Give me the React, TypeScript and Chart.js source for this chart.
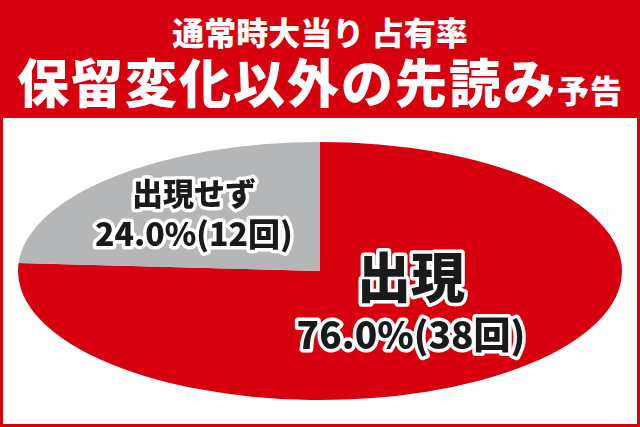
import { useEffect, useRef } from 'react'
import { Chart, registerables } from 'chart.js'

Chart.register(...registerables)

const categories = ['出現', '出現せず']
const shares = [76.0, 24.0]
const counts = [38, 12]
const sliceColors = ['#D7000F', '#B5B6B8']

const titleTop = '通常時大当り 占有率'
const titleMain = '保留変化以外の先読み'
const titleSub = '予告'

const FONT = '"Noto Sans CJK JP", "Noto Sans", sans-serif'
const RED = '#D7000F'

// 楕円にするための横方向の半径
const ellipseRx = 302
// ラベル位置（半径に対する割合と縦のずらし）、フォントサイズ、行間
const labelRadius = [0.44, 0.61]
const labelDy = [-6, 0]
const nameSize = [54, 31]
const valueSize = [37, 32]
const lineGap = [58, 40]

export default function App() {
  const chartRef = useRef<HTMLCanvasElement>(null)
  const chartInstance = useRef<Chart | null>(null)

  useEffect(() => {
    document.body.style.margin = '0'
    if (!chartRef.current) return
    if (chartInstance.current) chartInstance.current.destroy()

    // 円を横に引き伸ばして楕円にする
    const stretchPlugin = {
      id: 'stretch',
      beforeDatasetsDraw(chart: any) {
        const { ctx, chartArea } = chart
        const arc = chart.getDatasetMeta(0).data[0]
        const cx = (chartArea.left + chartArea.right) / 2
        const cy = (chartArea.top + chartArea.bottom) / 2
        const sx = ellipseRx / arc.outerRadius
        ctx.save()
        ctx.translate(cx, cy)
        ctx.scale(sx, 1)
        ctx.translate(-cx, -cy)
      },
      afterDatasetsDraw(chart: any) {
        chart.ctx.restore()
      },
    }

    // ラベル（白フチ付きの黒文字）
    const labelPlugin = {
      id: 'sliceLabels',
      afterDraw(chart: any) {
        const { ctx } = chart
        const arcs = chart.getDatasetMeta(0).data
        arcs.forEach((arc: any, i: number) => {
          const sx = ellipseRx / arc.outerRadius
          const mid = (arc.startAngle + arc.endAngle) / 2
          const r = arc.outerRadius * labelRadius[i]
          const px = arc.x + Math.cos(mid) * r * sx
          const py = arc.y + Math.sin(mid) * r + labelDy[i]
          const lines = [
            { text: categories[i], size: nameSize[i], y: py - lineGap[i] / 2 },
            {
              text: `${shares[i].toFixed(1)}%(${counts[i]}回)`,
              size: valueSize[i],
              y: py + lineGap[i] / 2,
            },
          ]
          ctx.save()
          ctx.textAlign = 'center'
          ctx.textBaseline = 'middle'
          ctx.lineJoin = 'round'
          lines.forEach((l) => {
            ctx.font = `900 ${l.size}px ${FONT}`
            ctx.strokeStyle = '#ffffff'
            ctx.lineWidth = 7
            ctx.strokeText(l.text, px, l.y)
            ctx.fillStyle = '#1a1a1a'
            ctx.fillText(l.text, px, l.y)
          })
          ctx.restore()
        })
      },
    }

    chartInstance.current = new Chart(chartRef.current, {
      type: 'pie',
      data: {
        labels: categories,
        datasets: [
          {
            data: shares,
            backgroundColor: sliceColors,
            borderWidth: 0,
            hoverOffset: 0,
            clip: false,
          } as any,
        ],
      },
      options: {
        responsive: false,
        animation: false,
        layout: { padding: { top: 24, bottom: 24, left: 0, right: 0 } },
        plugins: {
          legend: { display: false },
          tooltip: { enabled: false },
        },
      },
      plugins: [stretchPlugin, labelPlugin],
    } as any)

    return () => {
      if (chartInstance.current) {
        chartInstance.current.destroy()
        chartInstance.current = null
      }
    }
  }, [])

  return (
    <div
      style={{
        position: 'absolute',
        left: 0,
        top: 0,
        width: 640,
        height: 427,
        background: RED,
        fontFamily: FONT,
        overflow: 'hidden',
      }}
    >
      <div
        style={{
          position: 'absolute',
          left: 0,
          top: 11,
          width: 640,
          height: 40,
          lineHeight: '40px',
          textAlign: 'center',
          color: '#fff',
          fontSize: 32,
          fontWeight: 900,
          whiteSpace: 'nowrap',
        }}
      >
        {titleTop}
      </div>
      <div
        style={{
          position: 'absolute',
          left: 0,
          top: 53,
          width: 640,
          height: 56,
          lineHeight: '56px',
          textAlign: 'center',
          color: '#fff',
          fontSize: 52,
          fontWeight: 900,
          letterSpacing: 2,
          whiteSpace: 'nowrap',
        }}
      >
        {titleMain}
        <span style={{ fontSize: 32, letterSpacing: 1 }}>{titleSub}</span>
      </div>
      <div
        style={{
          position: 'absolute',
          left: 3,
          top: 118,
          width: 634,
          height: 306,
          background: '#fff',
        }}
      >
        <canvas ref={chartRef} width={634} height={306} style={{ display: 'block' }} />
      </div>
    </div>
  )
}
